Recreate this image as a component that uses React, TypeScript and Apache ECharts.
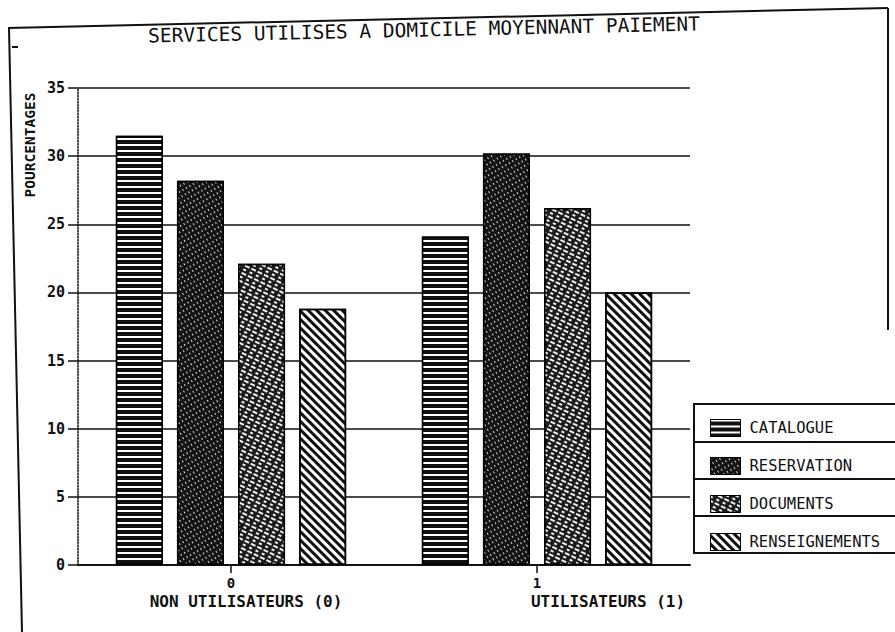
import React, { useEffect, useRef } from "react";
import * as echarts from "echarts";

const categoryCodes = ["0", "1"];
const categoryNames = ["NON UTILISATEURS (0)", "UTILISATEURS (1)"];
const seriesNames = ["CATALOGUE", "RESERVATION", "DOCUMENTS", "RENSEIGNEMENTS"];
const catalogue = [31.5, 24.1];
const reservation = [28.2, 30.2];
const documents = [22.1, 26.2];
const renseignements = [18.8, 20.0];
const titleText = "SERVICES UTILISES A DOMICILE MOYENNANT PAIEMENT";
const yAxisTitle = "POURCENTAGES";

const MONO = "'DejaVu Sans Mono', 'Liberation Mono', monospace";

export default function App() {
  const ref = useRef<HTMLDivElement>(null);
  useEffect(() => {
    document.body.style.margin = "0";
    const chart = echarts.init(ref.current!, null, { renderer: "svg" });
    const values = [catalogue, reservation, documents, renseignements];
    const styles = [
      {
        color: "#111",
        decal: { symbol: "rect", color: "#fff", dashArrayX: [1, 0], dashArrayY: [2, 4], rotation: 0 },
      },
      {
        color: "#141414",
        decal: { symbol: "rect", color: "#e0e0e0", dashArrayX: [2, 3], dashArrayY: [1, 3], rotation: Math.PI / 3 },
      },
      {
        color: "#1c1c1c",
        decal: { symbol: "rect", color: "#f0f0f0", dashArrayX: [[5, 2], [3, 4]], dashArrayY: [1.5, 2], rotation: Math.PI / 7 },
      },
      {
        color: "#fff",
        decal: { symbol: "rect", color: "#111", dashArrayX: [1, 0], dashArrayY: [2.5, 3], rotation: Math.PI / 4 },
      },
    ];
    const series = seriesNames.map((name, i) => ({
      name,
      type: "bar",
      data: values[i],
      barWidth: 47,
      barGap: "30%",
      itemStyle: { ...styles[i], borderColor: "#000", borderWidth: 1.5 },
    }));
    chart.setOption({
      animation: false,
      backgroundColor: "#fff",
      textStyle: { fontFamily: MONO, color: "#111" },
      grid: { left: 78, right: 205, top: 88, bottom: 67 },
      legend: {
        data: seriesNames,
        orient: "vertical",
        left: 705,
        top: 414,
        icon: "rect",
        itemWidth: 30,
        itemHeight: 17,
        itemGap: 20,
        itemStyle: { borderColor: "#000", borderWidth: 1 },
        textStyle: { fontFamily: MONO, fontSize: 15.5, color: "#111", padding: [0, 0, 0, 4] },
      },
      xAxis: [
        {
          type: "category",
          data: categoryCodes,
          axisLine: { show: true, lineStyle: { color: "#111", width: 2 } },
          axisTick: { show: true, alignWithLabel: true, length: 8, lineStyle: { color: "#111", width: 1.5 } },
          axisLabel: { interval: 0, margin: 11, fontFamily: MONO, fontSize: 14, fontWeight: "bold", color: "#111" },
        },
        {
          type: "category",
          data: categoryNames,
          position: "bottom",
          offset: 20,
          axisLine: { show: false },
          axisTick: { show: false },
          axisLabel: {
            interval: 0,
            margin: 8,
            formatter: (v: string, i: number) => `{n${i}|${v}}`,
            rich: {
              n0: { fontFamily: MONO, fontSize: 16, fontWeight: "bold", color: "#111", padding: [0, 0, 0, 30] },
              n1: { fontFamily: MONO, fontSize: 16, fontWeight: "bold", color: "#111", padding: [0, 0, 0, 142] },
            },
          },
        },
      ],
      yAxis: {
        type: "value",
        min: 0,
        max: 35,
        interval: 5,
        axisLine: { show: true, lineStyle: { color: "#111", width: 1.5, type: "dotted" } },
        axisTick: { show: true, length: 10, lineStyle: { color: "#111", width: 1.5 } },
        axisLabel: { margin: 13, fontFamily: MONO, fontSize: 15, fontWeight: "bold", color: "#111" },
        splitLine: { show: true, lineStyle: { color: "#111", width: 1.5 } },
      },
      graphic: [
        { type: "line", shape: { x1: 8, y1: 28, x2: 888, y2: 8 }, style: { stroke: "#111", lineWidth: 2 } },
        { type: "line", shape: { x1: 9, y1: 28, x2: 22, y2: 632 }, style: { stroke: "#111", lineWidth: 2 } },
        { type: "line", shape: { x1: 888, y1: 8, x2: 888, y2: 330 }, style: { stroke: "#111", lineWidth: 2 } },
        { type: "line", shape: { x1: 12, y1: 47, x2: 18, y2: 47 }, style: { stroke: "#111", lineWidth: 2 } },
        {
          type: "text",
          x: 424,
          y: 30,
          rotation: 0.022,
          style: {
            text: titleText,
            fontFamily: MONO,
            fontSize: 19.5,
            fill: "#111",
            align: "center",
            verticalAlign: "middle",
          },
        },
        {
          type: "text",
          x: 30,
          y: 145,
          rotation: Math.PI / 2,
          style: {
            text: yAxisTitle,
            fontFamily: MONO,
            fontSize: 14.5,
            fontWeight: "bold",
            fill: "#111",
            align: "center",
            verticalAlign: "middle",
          },
        },
        { type: "rect", shape: { x: 694, y: 404, width: 220, height: 149 }, style: { fill: "none", stroke: "#111", lineWidth: 2 }, z: 10 },
        { type: "line", shape: { x1: 694, y1: 442, x2: 895, y2: 442 }, style: { stroke: "#111", lineWidth: 2 }, z: 10 },
        { type: "line", shape: { x1: 694, y1: 479, x2: 895, y2: 479 }, style: { stroke: "#111", lineWidth: 2 }, z: 10 },
        { type: "line", shape: { x1: 694, y1: 516, x2: 895, y2: 516 }, style: { stroke: "#111", lineWidth: 2 }, z: 10 },
      ],
      series,
    });
    return () => chart.dispose();
  }, []);
  return <div ref={ref} style={{ position: "fixed", left: 0, top: 0, width: 895, height: 632 }} />;
}
